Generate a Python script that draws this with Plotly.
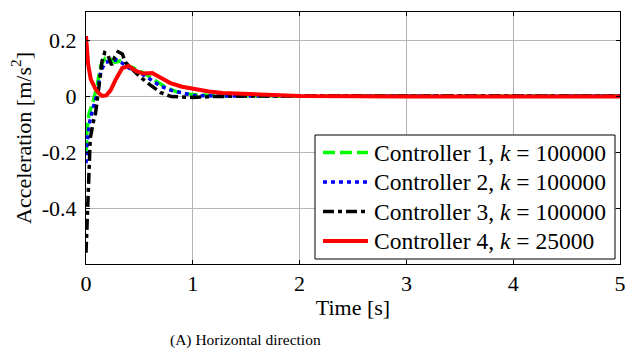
import plotly.graph_objects as go

# ---- data ----
t1 = [0, 0.01, 0.03, 0.06, 0.10, 0.14, 0.18, 0.22, 0.27, 0.32, 0.38, 0.45, 0.55, 0.65, 0.75, 0.85, 1.0, 1.2, 1.5, 2.0, 3.0, 4.0, 5.0]
c1 = [-0.20, -0.12, -0.06, -0.03, 0.03, 0.11, 0.135, 0.135, 0.12, 0.125, 0.11, 0.10, 0.08, 0.055, 0.03, 0.015, 0.005, 0.002, 0.0, 0.0, 0.0, 0.0, 0.0]

t2 = [0, 0.01, 0.03, 0.06, 0.10, 0.14, 0.18, 0.22, 0.28, 0.33, 0.40, 0.50, 0.60, 0.70, 0.80, 0.90, 1.0, 1.2, 1.5, 2.0, 3.0, 4.0, 5.0]
c2 = [-0.24, -0.17, -0.10, -0.05, 0.0, 0.09, 0.12, 0.125, 0.13, 0.12, 0.10, 0.085, 0.06, 0.035, 0.02, 0.01, 0.002, 0.0, 0.0, 0.0, 0.0, 0.0, 0.0]

t3 = [0, 0.01, 0.02, 0.04, 0.07, 0.09, 0.12, 0.15, 0.175, 0.20, 0.24, 0.27, 0.30, 0.34, 0.37, 0.42, 0.50, 0.60, 0.70, 0.80, 1.0, 1.2, 1.5, 2.0, 3.0, 4.0, 5.0]
c3 = [-0.56, -0.45, -0.30, -0.15, -0.09, -0.06, 0.03, 0.125, 0.155, 0.15, 0.11, 0.14, 0.158, 0.15, 0.12, 0.10, 0.07, 0.04, 0.012, -0.002, -0.005, -0.002, 0.0, 0.0, 0.0, 0.0, 0.0]

t4 = [0, 0.01, 0.02, 0.044, 0.07, 0.09, 0.12, 0.15, 0.19, 0.23, 0.28, 0.34, 0.40, 0.47, 0.54, 0.62, 0.70, 0.79, 0.90, 1.0, 1.15, 1.28, 1.53, 2.0, 3.0, 4.0, 5.0]
c4 = [0.214, 0.16, 0.113, 0.06, 0.036, 0.024, 0.01, 0.0, 0.002, 0.02, 0.06, 0.10, 0.107, 0.089, 0.08, 0.082, 0.065, 0.046, 0.033, 0.025, 0.016, 0.011, 0.006, 0.0, -0.002, -0.002, -0.002]

names = ["Controller 1, <i>k</i> = 100000", "Controller 2, <i>k</i> = 100000",
         "Controller 3, <i>k</i> = 100000", "Controller 4, <i>k</i> = 25000"]

xticks = [0, 1, 2, 3, 4, 5]
yticks = [0.2, 0, -0.2, -0.4]
yticklabels = ["0.2", "0", "-0.2", "-0.4"]

# ---- styles ----
FONT = "Liberation Serif"
TF = dict(family=FONT, size=22, color="black")
colors = ["#00ff00", "#0000ff", "#000000", "#ff0000"]
dashes = ["12px,5px", "4px,4px", "11px,4px,4px,4px", "solid"]
widths = [3.5, 3.5, 3.5, 4]

# plot-area geometry (pixels) used to place the hand-drawn legend
L, R, T, B = 86, 620, 12, 264
W, H = R - L, B - T
def px(x): return (x - L) / W
def py(y): return (B - y) / H

fig = go.Figure()
for t, c, n, col, d, w in zip([t1, t2, t3, t4], [c1, c2, c3, c4], names, colors, dashes, widths):
    fig.add_trace(go.Scatter(x=t, y=c, mode="lines", name=n, showlegend=False,
                             line=dict(color=col, width=w, dash=d)))

shapes = [dict(type="rect", xref="paper", yref="paper", x0=px(315), x1=px(615), y0=py(135), y1=py(259),
               line=dict(color="black", width=1), fillcolor="white", layer="above")]
annotations = []
row_y = [152.5, 182, 211.5, 241]
for n, col, d, w, yy in zip(names, colors, dashes, widths, row_y):
    shapes.append(dict(type="line", xref="paper", yref="paper", x0=px(323), x1=px(368), y0=py(yy), y1=py(yy),
                       line=dict(color=col, width=w, dash=d), layer="above"))
    annotations.append(dict(text=n, xref="paper", yref="paper", x=px(372), y=py(yy),
                            xanchor="left", yanchor="middle", showarrow=False,
                            font=dict(family=FONT, size=23.5, color="black")))

annotations.append(dict(text="(A) Horizontal direction", xref="paper", yref="paper",
                        x=px(245), y=py(340), xanchor="center", yanchor="middle",
                        showarrow=False, font=dict(family=FONT, size=15.5, color="black")))

fig.update_layout(
    width=625, height=356,
    margin=dict(l=L, r=625 - R, t=T, b=356 - B, autoexpand=False),
    paper_bgcolor="white", plot_bgcolor="white",
    font=TF,
    showlegend=False,
    xaxis=dict(range=[0, 5], tickvals=xticks, showgrid=True, gridcolor="#b4b4b4", gridwidth=1,
               zeroline=False, showline=True, linecolor="black", linewidth=1, mirror="ticks",
               ticks="inside", ticklen=4, tickcolor="black", tickfont=TF,
               ticklabeloverflow="allow", automargin=False,
               title=dict(text="Time [s]", standoff=4, font=TF)),
    yaxis=dict(range=[-0.6, 0.3], tickvals=yticks, ticktext=yticklabels, showgrid=True,
               gridcolor="#b4b4b4", gridwidth=1,
               zeroline=False, showline=True, linecolor="black", linewidth=1, mirror="ticks",
               ticks="inside", ticklen=4, tickcolor="black", tickfont=TF, automargin=False,
               ticklabelstandoff=4,
               title=dict(text="Acceleration [m/s<sup>2</sup>]", standoff=4, font=TF)),
    shapes=shapes,
    annotations=annotations,
)

fig.write_html("out.html", config={"displayModeBar": False},
               post_script="document.body.style.margin='0';document.body.style.padding='0';")
